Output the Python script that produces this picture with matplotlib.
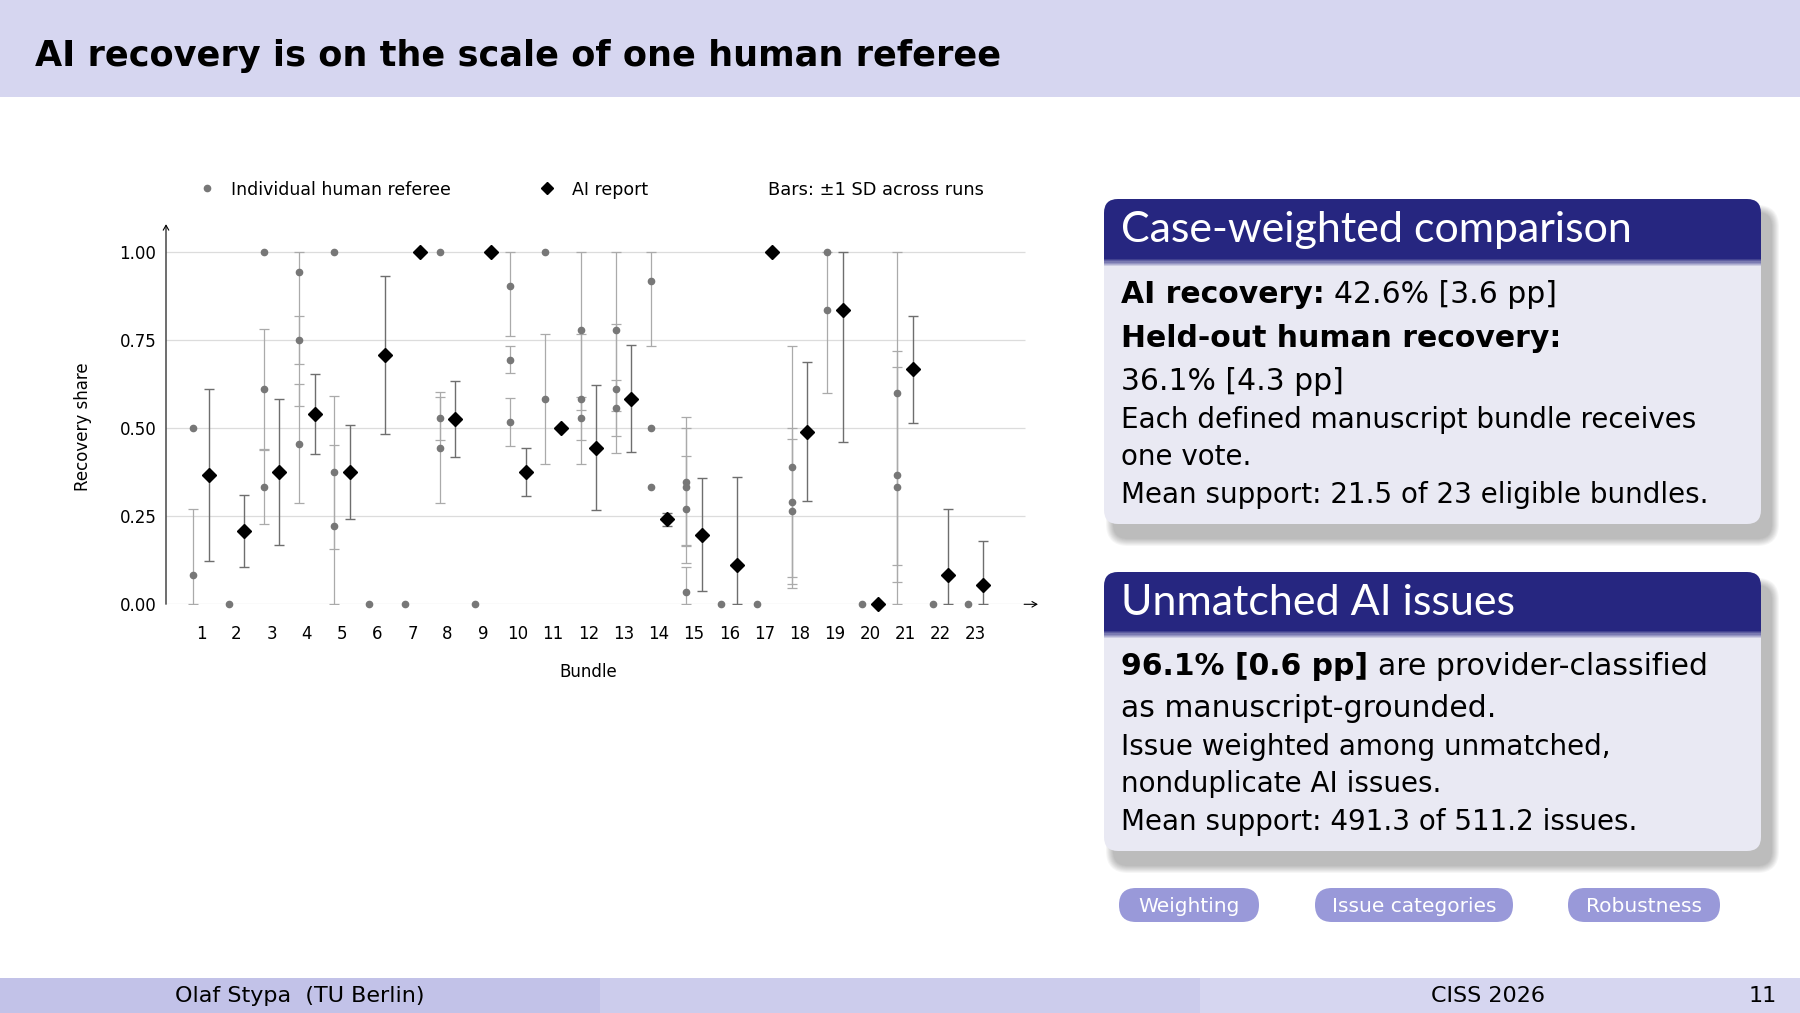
import numpy as np
import matplotlib
matplotlib.use("Agg")
import matplotlib.pyplot as plt
from matplotlib.patches import FancyBboxPatch, Rectangle
from matplotlib.lines import Line2D

plt.rcParams['font.family'] = ['DejaVu Sans']
TITLE_FONT = ['Lato', 'DejaVu Sans']

nan = np.nan

# ---- data ----
bundles = list(range(1, 24))
ai_share = [0.367, 0.208, 0.375, 0.539, 0.375, 0.708, 1.0, 0.525, 1.0, 0.375, 0.5, 0.444,
            0.583, 0.241, 0.197, 0.111, 1.0, 0.49, 0.834, 0.0, 0.666, 0.083, 0.056]
ai_sd = [0.244, 0.102, 0.207, 0.113, 0.133, 0.224, 0, 0.107, 0, 0.069, 0, 0.177,
         0.151, 0.019, 0.16, 0.249, 0, 0.197, 0.375, 0, 0.153, 0.186, 0.123]

human_bundle = [1, 1, 2, 3, 3, 3, 4, 4, 4, 5, 5, 5, 6, 7, 8, 8, 8, 9, 10, 10, 10, 11, 11,
                12, 12, 12, 13, 13, 13, 14, 14, 14, 15, 15, 15, 15, 16, 17, 18, 18, 18,
                19, 19, 20, 21, 21, 21, 22, 23]
human_share = [0.5, 0.083, 0.0, 1.0, 0.611, 0.333, 0.943, 0.75, 0.456, 1.0, 0.375, 0.223,
               0.0, 0.0, 1.0, 0.527, 0.444, 0.0, 0.903, 0.694, 0.517, 1.0, 0.583,
               0.778, 0.583, 0.527, 0.778, 0.611, 0.556, 0.917, 0.5, 0.334,
               0.348, 0.334, 0.269, 0.034, 0.0, 0.0, 0.389, 0.289, 0.264,
               1.0, 0.834, 0.0, 0.6, 0.367, 0.334, 0.0, 0.0]
human_sd = [nan, 0.186, nan, nan, 0.17, 0.105, 0.38, 0.069, 0.17, nan, 0.217, 0.228,
            nan, nan, nan, 0.062, 0.157, nan, 0.141, 0.039, 0.068, nan, 0.185,
            0.228, 0.185, 0.061, 0.23, 0.183, 0.079, 0.185, nan, nan,
            0.182, 0.166, 0.153, 0.073, nan, nan, 0.343, 0.212, 0.206,
            nan, 0.236, nan, 0.489, 0.305, 0.383, nan, nan]

y_ticks = [0, 0.25, 0.5, 0.75, 1.0]
y_ticklabels = ["0.00", "0.25", "0.50", "0.75", "1.00"]

# ---- colours ----
head_bg = "#d6d6f0"
foot_cols = ["#c2c2e8", "#ccccec", "#d6d6f0"]
block_title = "#262680"
block_body = "#e9e9f3"
button_col = "#9999d9"

W, H = 1800, 1013
fig = plt.figure(figsize=(W / 100, H / 100), dpi=100)
fig.patch.set_facecolor("white")

# background axes in pixel coordinates for the slide furniture
bg = fig.add_axes([0, 0, 1, 1], zorder=0)
bg.set_xlim(0, W)
bg.set_ylim(H, 0)
bg.axis("off")

bg.add_patch(Rectangle((0, 0), W, 97, color=head_bg, lw=0))
bg.text(35, 66, "AI recovery is on the scale of one human referee", fontsize=25.3,
        fontweight="bold", va="baseline", ha="left", color="black")

# footer
for i, c in enumerate(foot_cols):
    bg.add_patch(Rectangle((i * 600, 978), 600, 35, color=c, lw=0))
bg.text(300, 1002, "Olaf Stypa  (TU Berlin)", fontsize=16, ha="center", va="baseline")
bg.text(1488, 1002, "CISS 2026", fontsize=16, ha="center", va="baseline")
bg.text(1777, 1002, "11", fontsize=16, ha="right", va="baseline")

renderer = fig.canvas.get_renderer()


def text_width(s, size, weight):
    t = bg.text(0, 0, s, fontsize=size, fontweight=weight)
    w = t.get_window_extent(renderer=renderer).width
    t.remove()
    return w


def rich(x, y, parts, size):
    space = text_width("a a", size, "normal") - text_width("aa", size, "normal")
    for k, (s, weight) in enumerate(parts):
        if k > 0:
            x += space
        t = bg.text(x, y, s, fontsize=size, fontweight=weight, va="baseline", ha="left")
        x += t.get_window_extent(renderer=renderer).width


def block(x0, x1, top, tbot, bot, title, lines):
    r = 14
    # soft shadow
    for k in range(8):
        p = 8 - k
        bg.add_patch(FancyBboxPatch((x0 + 10 - p, top + 14 - p), x1 - x0 + 2 * p, bot - top + 2 * p,
                                    boxstyle=f"round,pad=0,rounding_size={r + p}",
                                    fc="#000000", ec="none", alpha=0.035))
    bg.add_patch(FancyBboxPatch((x0, top), x1 - x0, bot - top,
                                boxstyle=f"round,pad=0,rounding_size={r}", fc=block_body, ec="none"))
    bg.add_patch(FancyBboxPatch((x0, top), x1 - x0, tbot - top + r,
                                boxstyle=f"round,pad=0,rounding_size={r}", fc=block_title, ec="none"))
    bg.add_patch(Rectangle((x0, tbot), x1 - x0, r + 2, fc=block_body, ec="none"))
    # short gradient under the title bar
    c0 = np.array(matplotlib.colors.to_rgb(block_title))
    c1 = np.array(matplotlib.colors.to_rgb(block_body))
    for k in range(6):
        f = (k + 1) / 7
        bg.add_patch(Rectangle((x0, tbot + k * 1.2), x1 - x0, 1.3, fc=c0 * (1 - f) + c1 * f, ec="none"))
    bg.text(x0 + 17, top + 43, title, fontsize=31, color="white", va="baseline", ha="left",
            family=TITLE_FONT)
    for y, parts, size in lines:
        rich(x0 + 17, y, parts, size)


B, N = "bold", "normal"
big, small = 21.5, 20
block(1104, 1761, 199, 259, 524, "Case-weighted comparison", [
    (303, [("AI recovery:", B), ("42.6% [3.6 pp]", N)], big),
    (347, [("Held-out human recovery:", B)], big),
    (390, [("36.1% [4.3 pp]", N)], big),
    (428, [("Each defined manuscript bundle receives", N)], small),
    (465, [("one vote.", N)], small),
    (503, [("Mean support: 21.5 of 23 eligible bundles.", N)], small),
])
block(1104, 1761, 572, 631, 851, "Unmatched AI issues", [
    (675, [("96.1% [0.6 pp]", B), ("are provider-classified", N)], big),
    (717, [("as manuscript-grounded.", N)], big),
    (755, [("Issue weighted among unmatched,", N)], small),
    (792, [("nonduplicate AI issues.", N)], small),
    (830, [("Mean support: 491.3 of 511.2 issues.", N)], small),
])

# buttons
for label, bx0, bx1 in [("Weighting", 1119, 1259), ("Issue categories", 1315, 1513),
                        ("Robustness", 1568, 1720)]:
    bg.add_patch(FancyBboxPatch((bx0, 888), bx1 - bx0, 34,
                                boxstyle="round,pad=0,rounding_size=17", fc=button_col, ec="none"))
    bg.text((bx0 + bx1) / 2, 906, label, fontsize=14.5, color="white", ha="center", va="center")

# legend row
bg.add_line(Line2D([207], [188], marker="o", ms=4.5, color="#777777", ls="none"))
bg.text(231, 195, "Individual human referee", fontsize=12.5, va="baseline")
bg.add_line(Line2D([547], [188], marker="D", ms=6.5, color="black", ls="none"))
bg.text(572, 195, "AI report", fontsize=12.5, va="baseline")
bg.text(768, 195, "Bars: \u00b11 SD across runs", fontsize=12.8, va="baseline")

# ---- chart ----
px_unit_x = 35.2
px_unit_y = 352.6
x_max, y_max = 24.9, 1.08
ax = fig.add_axes([166 / W, 1 - 604.3 / H, x_max * px_unit_x / W, y_max * px_unit_y / H], zorder=2)
ax.set_facecolor("none")
ax.set_xlim(0, x_max)
ax.set_ylim(0, y_max)
for s in ax.spines.values():
    s.set_visible(False)

ax.hlines(y_ticks, 0, 24.4, color="#dcdcdc", lw=0.9, zorder=0)
ax.annotate("", xy=(x_max - 0.05, 0), xytext=(24.3, 0),
            arrowprops=dict(arrowstyle="->,head_length=0.35,head_width=0.2", color="black", lw=0.8),
            annotation_clip=False)
ax.annotate("", xy=(0, 1.078), xytext=(0, 0),
            arrowprops=dict(arrowstyle="->,head_length=0.35,head_width=0.2", color="black", lw=0.8,
                            shrinkA=0, shrinkB=0),
            annotation_clip=False)

off = 0.22
hx = np.array(human_bundle) - off
hy = np.array(human_share)
hsd = np.array(human_sd)
has = ~np.isnan(hsd)
lo = np.clip(hy[has] - hsd[has], 0, 1)
hi = np.clip(hy[has] + hsd[has], 0, 1)
ax.errorbar(hx[has], hy[has], yerr=[hy[has] - lo, hi - hy[has]], fmt="none",
            ecolor="#aaaaaa", elinewidth=0.9, capsize=3.5, capthick=0.9, zorder=2)
ax.plot(hx, hy, "o", ms=4.5, color="#777777", zorder=3, clip_on=False)

ax_x = np.array(bundles) + off
ay = np.array(ai_share)
asd = np.array(ai_sd)
has = asd > 0
lo = np.clip(ay[has] - asd[has], 0, 1)
hi = np.clip(ay[has] + asd[has], 0, 1)
ax.errorbar(ax_x[has], ay[has], yerr=[ay[has] - lo, hi - ay[has]], fmt="none",
            ecolor="#6e6e6e", elinewidth=1.0, capsize=3.5, capthick=1.0, zorder=4)
ax.plot(ax_x, ay, "D", ms=6.8, color="black", zorder=5, clip_on=False)

ax.set_xticks(bundles)
ax.set_xticklabels([str(b) for b in bundles])
ax.set_yticks(y_ticks)
ax.set_yticklabels(y_ticklabels)
ax.tick_params(axis="x", length=0, pad=15, labelsize=12)
ax.tick_params(axis="y", length=0, pad=7, labelsize=12)
ax.set_xlabel("Bundle", fontsize=12)
ax.xaxis.set_label_coords(12.0 / x_max, (604.3 - 677) / (y_max * px_unit_y), transform=ax.transAxes)
ax.xaxis.label.set_va("baseline")
ax.set_ylabel("Recovery share", fontsize=12)
ax.yaxis.set_label_coords((83 - 166) / (x_max * px_unit_x), 0.503 / y_max)
ax.yaxis.label.set_va("center")

fig.savefig("out.png", dpi=100)
